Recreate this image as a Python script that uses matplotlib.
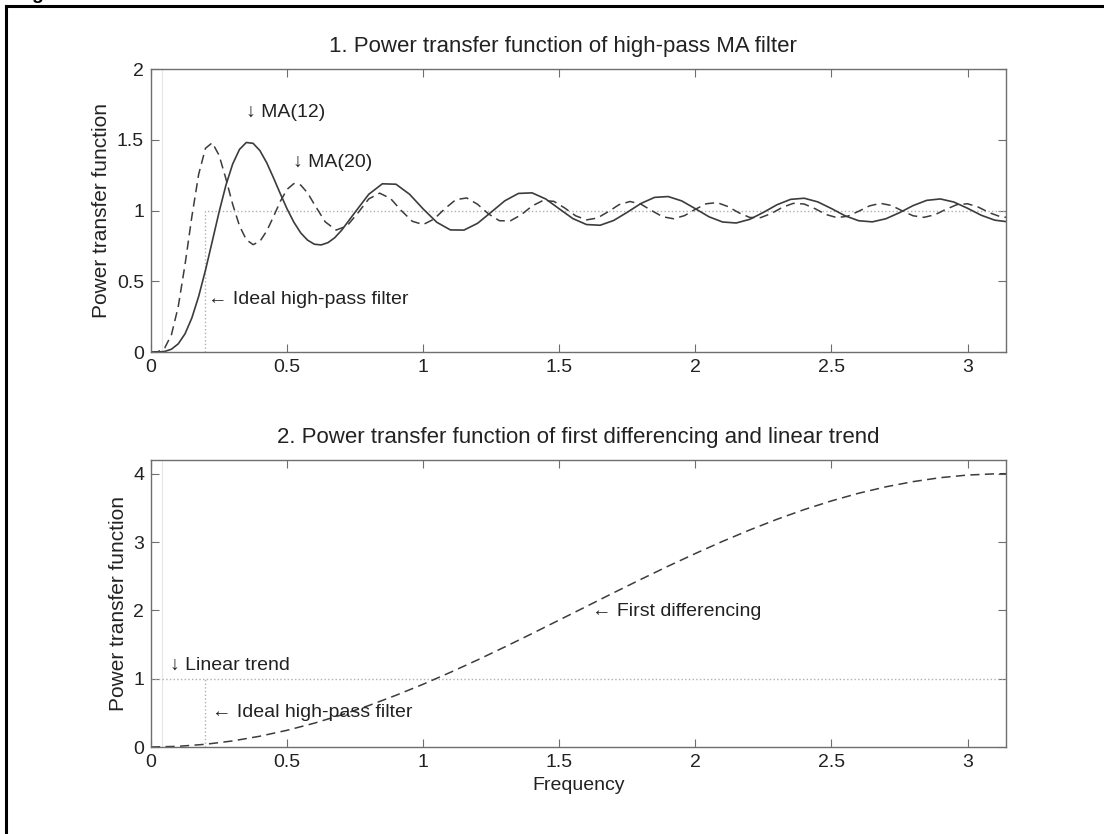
import numpy as np
import matplotlib
matplotlib.use('Agg')
import matplotlib.pyplot as plt
from matplotlib.ticker import FormatStrFormatter
from matplotlib.lines import Line2D

plt.rcParams['font.family'] = ['Liberation Sans', 'DejaVu Sans']

# MA(12) high-pass, power transfer (solid)
ma12_x = [0, 0.025, 0.05, 0.075, 0.1, 0.125, 0.15, 0.175, 0.2, 0.225, 0.25, 0.275, 0.3, 0.325,
          0.35, 0.375, 0.4, 0.425, 0.45, 0.475, 0.5, 0.525, 0.55, 0.575, 0.6, 0.625, 0.65, 0.675,
          0.7, 0.75, 0.8, 0.85, 0.9, 0.95, 1.0, 1.05, 1.1, 1.15, 1.2, 1.25, 1.3, 1.35, 1.4, 1.45,
          1.5, 1.55, 1.6, 1.65, 1.7, 1.75, 1.8, 1.85, 1.9, 1.95, 2.0, 2.05, 2.1, 2.15, 2.2, 2.25,
          2.3, 2.35, 2.4, 2.45, 2.5, 2.55, 2.6, 2.65, 2.7, 2.75, 2.8, 2.85, 2.9, 2.95, 3.0, 3.05,
          3.1, 3.1416]
ma12_y = [0, 0.0003, 0.004, 0.020, 0.058, 0.129, 0.241, 0.393, 0.578, 0.783, 0.989, 1.178, 1.329, 1.432,
          1.481, 1.475, 1.424, 1.338, 1.231, 1.119, 1.011, 0.917, 0.842, 0.791, 0.762, 0.757, 0.773, 0.808,
          0.860, 0.989, 1.115, 1.189, 1.186, 1.115, 1.011, 0.917, 0.863, 0.862, 0.910, 0.989, 1.069, 1.121,
          1.125, 1.082, 1.012, 0.943, 0.901, 0.896, 0.930, 0.988, 1.050, 1.093, 1.099, 1.068, 1.013, 0.956,
          0.919, 0.912, 0.938, 0.987, 1.041, 1.079, 1.087, 1.061, 1.014, 0.963, 0.928, 0.920, 0.942, 0.985,
          1.035, 1.072, 1.082, 1.060, 1.016, 0.967, 0.932, 0.922]

# MA(20) high-pass, power transfer (dashed)
ma20_x = [0, 0.025, 0.05, 0.075, 0.1, 0.125, 0.15, 0.175, 0.2, 0.225, 0.25, 0.275, 0.3, 0.325,
          0.35, 0.375, 0.4, 0.425, 0.45, 0.475, 0.5, 0.525, 0.55, 0.575, 0.6, 0.64, 0.68, 0.72,
          0.76, 0.8, 0.84, 0.88, 0.92, 0.96, 1.0, 1.04, 1.08, 1.12, 1.16, 1.2, 1.24, 1.28, 1.32,
          1.36, 1.4, 1.44, 1.48, 1.52, 1.56, 1.6, 1.64, 1.68, 1.72, 1.76, 1.8, 1.84, 1.88, 1.92,
          1.96, 2.0, 2.04, 2.08, 2.12, 2.16, 2.2, 2.24, 2.28, 2.32, 2.36, 2.4, 2.44, 2.48, 2.52,
          2.56, 2.6, 2.64, 2.68, 2.72, 2.76, 2.8, 2.84, 2.88, 2.92, 2.96, 3.0, 3.04, 3.08, 3.12,
          3.1416]
ma20_y = [0, 0.002, 0.028, 0.122, 0.321, 0.619, 0.957, 1.256, 1.440, 1.479, 1.391, 1.226, 1.044, 0.892,
          0.794, 0.759, 0.782, 0.855, 0.957, 1.065, 1.150, 1.191, 1.180, 1.125, 1.044, 0.920, 0.862, 0.891,
          0.983, 1.082, 1.123, 1.085, 0.999, 0.924, 0.901, 0.940, 1.014, 1.077, 1.089, 1.044, 0.976, 0.928,
          0.927, 0.970, 1.032, 1.071, 1.065, 1.018, 0.963, 0.934, 0.947, 0.992, 1.042, 1.064, 1.045, 0.999,
          0.956, 0.942, 0.964, 1.009, 1.048, 1.056, 1.028, 0.984, 0.951, 0.950, 0.980, 1.023, 1.051, 1.046,
          1.013, 0.972, 0.950, 0.960, 0.995, 1.033, 1.051, 1.036, 0.998, 0.963, 0.952, 0.970, 1.008, 1.041,
          1.048, 1.024, 0.985, 0.957, 0.952]

# first differencing (dashed)
diff_x = [0, 0.1, 0.2, 0.3, 0.4, 0.5, 0.6, 0.7, 0.8, 0.9, 1.0, 1.1, 1.2, 1.3, 1.4, 1.5, 1.6,
          1.7, 1.8, 1.9, 2.0, 2.1, 2.2, 2.3, 2.4, 2.5, 2.6, 2.7, 2.8, 2.9, 3.0, 3.1, 3.1416]
diff_y = [0, 0.010, 0.040, 0.089, 0.158, 0.245, 0.349, 0.470, 0.607, 0.757, 0.919, 1.093, 1.275,
          1.465, 1.660, 1.859, 2.058, 2.258, 2.454, 2.647, 2.832, 3.010, 3.177, 3.333, 3.475, 3.602,
          3.714, 3.808, 3.884, 3.942, 3.980, 3.998, 4.0]

# ideal high-pass filter and linear trend (dotted)
ideal_x = [0.2, 0.2, 3.1416]
ideal_y = [0, 1, 1]
ideal2_x = [0.2, 0.2]
ideal2_y = [0, 1]
trend_x = [0, 3.1416]
trend_y = [1, 1]

xticks = [0, 0.5, 1, 1.5, 2, 2.5, 3]

line_col = '#3c3c3c'
dot_col = '#b0b0b0'
spine_col = '#6e6e6e'
txt_col = '#222222'
fs = 14


def style_axes(ax, ymax, yticks):
    ax.set_xlim(0, 3.1416)
    ax.set_ylim(0, ymax)
    ax.set_xticks(xticks)
    ax.set_yticks(yticks)
    ax.xaxis.set_major_formatter(FormatStrFormatter('%g'))
    ax.yaxis.set_major_formatter(FormatStrFormatter('%g'))
    ax.tick_params(direction='in', length=6, width=0.8, color=spine_col,
                   top=True, right=True, labelsize=fs, labelcolor=txt_col, pad=5)
    for s in ax.spines.values():
        s.set_color(spine_col)
        s.set_linewidth(1.0)


fig = plt.figure(figsize=(11.04, 8.34), dpi=100)

# 1. high-pass MA filters
ax1 = fig.add_axes([0.1368, 0.5779, 0.7745, 0.3393])
ax1.axvline(0.04, color='#e6e6e6', lw=0.8)
ax1.plot(ideal_x, ideal_y, ':', color=dot_col, lw=1.0)
ax1.plot(ma20_x, ma20_y, color=line_col, lw=1.1, dashes=(6, 3.5))
ax1.plot(ma12_x, ma12_y, color=line_col, lw=1.2)
style_axes(ax1, 2, [0, 0.5, 1, 1.5, 2])
ax1.set_title('1. Power transfer function of high-pass MA filter', fontsize=16, pad=12,
              color=txt_col, x=0.482)
ax1.set_ylabel('Power transfer function', fontsize=15, color=txt_col)
ax1.text(0.35, 1.69, '\u2193 MA(12)', fontsize=fs, va='center', color=txt_col)
ax1.text(0.52, 1.34, '\u2193 MA(20)', fontsize=fs, va='center', color=txt_col)
ax1.text(0.21, 0.37, '\u2190 Ideal high-pass filter', fontsize=fs, va='center', color=txt_col)

# 2. first differencing and linear trend
ax2 = fig.add_axes([0.1368, 0.1043, 0.7745, 0.3441])
ax2.axvline(0.04, color='#e6e6e6', lw=0.8)
ax2.plot(trend_x, trend_y, ':', color=dot_col, lw=1.0)
ax2.plot(ideal2_x, ideal2_y, ':', color=dot_col, lw=1.0)
ax2.plot(diff_x, diff_y, color=line_col, lw=1.1, dashes=(6, 3.5))
style_axes(ax2, 4.2, [0, 1, 2, 3, 4])
ax2.set_title('2. Power transfer function of first differencing and linear trend', fontsize=16,
              pad=12, color=txt_col)
ax2.set_ylabel('Power transfer function', fontsize=15, color=txt_col)
ax2.set_xlabel('Frequency', fontsize=fs, color=txt_col)
ax2.text(0.07, 1.2, '\u2193 Linear trend', fontsize=fs, va='center', color=txt_col)
ax2.text(0.225, 0.5, '\u2190 Ideal high-pass filter', fontsize=fs, va='center', color=txt_col)
ax2.text(1.62, 1.98, '\u2190 First differencing', fontsize=fs, va='center', color=txt_col)

# outer frame (left and top edges of the figure box)
fig.add_artist(Line2D([6 / 1104, 6 / 1104], [0, 1 - 6 / 834], color='black', lw=2.2,
                      transform=fig.transFigure))
fig.add_artist(Line2D([6 / 1104, 1], [1 - 6 / 834, 1 - 6 / 834], color='black', lw=2.2,
                      transform=fig.transFigure))
fig.text(31 / 1104, 1 + 1 / 834, 'g', fontsize=14, fontweight='bold', va='baseline')

fig.savefig('out.png', dpi=100)
